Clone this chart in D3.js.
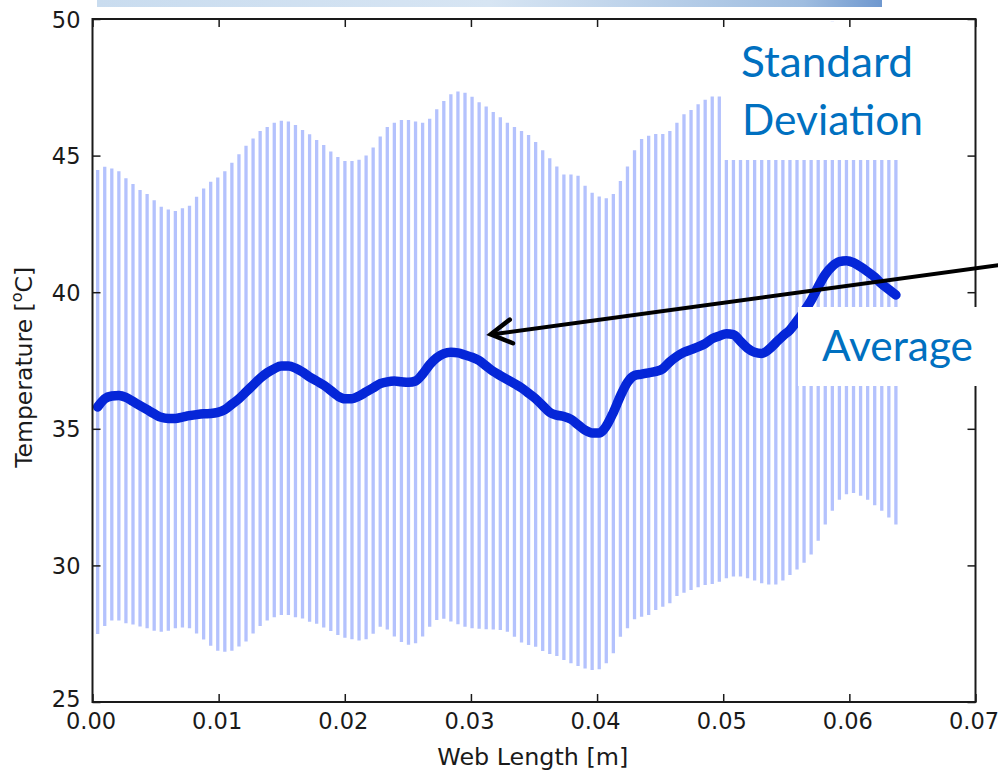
<!DOCTYPE html>
<html>
<head>
<meta charset="utf-8">
<script src="https://cdn.jsdelivr.net/npm/d3@7"></script>
<style>
  html, body { margin: 0; padding: 0; background: #fff; }
  svg { display: block; }
</style>
</head>
<body>
<svg id="chart" width="998" height="772"></svg>
<script>
// ---------------- data ----------------
const xFirst = 0.00041;          // web length of first sample [m]
const xStep = 0.00056;           // spacing between samples [m]

const upperValues = [
  44.47, 44.59, 44.53, 44.43, 44.17, 43.96, 43.74, 43.59, 43.37, 43.13, 43.03, 42.97, 43.07, 43.16, 43.49, 43.80,
  44.04, 44.20, 44.43, 44.74, 45.05, 45.36, 45.63, 45.90, 46.05, 46.20, 46.28, 46.25, 46.12, 45.94, 45.78, 45.57, 45.39,
  45.15, 44.95, 44.80, 44.80, 44.85, 45.00, 45.30, 45.70, 46.05, 46.20, 46.30, 46.30, 46.25, 46.20, 46.35, 46.70,
  47.00, 47.25, 47.35, 47.30, 47.15, 46.95, 46.80, 46.60, 46.40, 46.20, 46.05, 45.90, 45.75, 45.50, 45.20, 44.90, 44.60,
  44.31, 44.31, 44.26, 43.90, 43.64, 43.50, 43.44, 43.59, 44.07, 44.60, 45.20, 45.61, 45.73, 45.79, 45.79, 45.90,
  46.20, 46.51, 46.67, 46.88, 47.04, 47.16, 47.16,
  47.43, 47.31, 46.81, 46.37, 46.15, 46.17, 46.50, 47.00, 47.35, 47.60, 48.05, 48.50, 49.00, 49.50, 49.80, 49.90,
  49.80, 49.70, 49.50, 49.30, 49.10, 48.90, 48.60, 48.45, 48.30
];

const lowerValues = [
  27.49, 27.78, 27.98, 27.98, 27.88, 27.84, 27.76, 27.70, 27.61, 27.57, 27.61, 27.70, 27.73, 27.70, 27.51, 27.29,
  27.06, 26.88, 26.84, 26.88, 27.03, 27.21, 27.51, 27.78, 27.98, 28.10, 28.18, 28.18, 28.10, 28.06, 27.94, 27.86, 27.73,
  27.60, 27.45, 27.35, 27.30, 27.25, 27.30, 27.50, 27.75, 27.65, 27.40, 27.20, 27.10, 27.15, 27.40, 27.75, 28.00,
  28.05, 27.95, 27.85, 27.75, 27.70, 27.68, 27.66, 27.65,
  27.64, 27.57, 27.39, 27.18, 27.09, 27.02, 26.87, 26.76, 26.68, 26.54, 26.42, 26.32, 26.23, 26.17, 26.20, 26.42,
  26.78, 27.39, 27.70, 28.03, 28.12, 28.18, 28.37, 28.49, 28.61, 28.88, 29.00, 29.10, 29.20, 29.28, 29.32, 29.40,
  29.53, 29.59, 29.59, 29.53,
  29.45, 29.35, 29.30, 29.30, 29.45, 29.65, 29.85, 30.10, 30.40, 30.90, 31.50, 32.00, 32.40, 32.60, 32.65, 32.55,
  32.40, 32.20, 32.00, 31.75, 31.50
];

const meanValues = [
  35.80, 36.10, 36.20, 36.22, 36.15, 36.00, 35.85, 35.70, 35.55, 35.42, 35.38, 35.38, 35.43, 35.48, 35.52, 35.55,
  35.56, 35.60, 35.70, 35.90, 36.10, 36.35, 36.60, 36.85, 37.05, 37.20, 37.30, 37.30, 37.22, 37.08, 36.90, 36.75, 36.60,
  36.40, 36.20, 36.10, 36.10, 36.20, 36.35, 36.50, 36.65, 36.72, 36.75, 36.72, 36.70, 36.75, 37.00, 37.35, 37.60,
  37.75, 37.80, 37.78, 37.70, 37.62, 37.50, 37.30, 37.10, 36.95, 36.80, 36.65, 36.50, 36.30, 36.10, 35.85, 35.60, 35.50,
  35.45, 35.35, 35.15, 34.95, 34.85, 34.85, 35.10, 35.60, 36.20, 36.70, 36.95, 37.00, 37.05, 37.10, 37.20, 37.45,
  37.65, 37.80, 37.90, 38.00,
  38.12, 38.30, 38.40, 38.48, 38.45, 38.20, 37.95, 37.80, 37.76, 37.90, 38.15, 38.40, 38.62, 38.95, 39.30, 39.70,
  40.20, 40.65, 40.95, 41.12, 41.15, 41.08, 40.93, 40.75, 40.55, 40.30, 40.10, 39.90
];

const xTicks = [0.00, 0.01, 0.02, 0.03, 0.04, 0.05, 0.06, 0.07];
const yTicks = [25, 30, 35, 40, 45, 50];
const xLabel = "Web Length [m]";
const yLabelMain = "Temperature [";
const yLabelSup = "o";
const yLabelEnd = "C]";
const stdLabel = ["Standard", "Deviation"];
const avgLabel = "Average";
// arrow annotation (data coordinates): tail beyond the right edge, tip inside the plot
const arrowTail = [0.0720, 41.0];
const arrowTip = [0.03157, 38.46];

// ---------------- drawing ----------------
const svg = d3.select("#chart");
const W = 998, H = 772;
const plot = { left: 92.5, right: 975.5, top: 19, bottom: 702 };

const x = d3.scaleLinear().domain([0, 0.07]).range([plot.left, plot.right]);
const y = d3.scaleLinear().domain([25, 50]).range([plot.bottom, plot.top]);

svg.append("rect").attr("width", W).attr("height", H).attr("fill", "#fff");

// slide header strip at top
const defs = svg.append("defs");
const grad = defs.append("linearGradient").attr("id", "hdr").attr("x1", 0).attr("x2", 1).attr("y1", 0).attr("y2", 0);
grad.append("stop").attr("offset", "0").attr("stop-color", "#c9dcef");
grad.append("stop").attr("offset", "0.5").attr("stop-color", "#d7e5f3");
grad.append("stop").attr("offset", "0.9").attr("stop-color", "#9fbde0");
grad.append("stop").attr("offset", "1").attr("stop-color", "#6f98cf");
svg.append("rect").attr("x", 97).attr("y", 0).attr("width", 785).attr("height", 7).attr("fill", "url(#hdr)");

defs.append("clipPath").attr("id", "plotclip").append("rect")
  .attr("x", plot.left).attr("y", plot.top)
  .attr("width", plot.right - plot.left).attr("height", plot.bottom - plot.top);

const data = meanValues.map((m, i) => ({
  x: xFirst + i * xStep, mean: m, lo: lowerValues[i], hi: upperValues[i]
}));

// error bars (standard deviation)
svg.append("g").attr("clip-path", "url(#plotclip)")
  .selectAll("line").data(data).join("line")
  .attr("x1", d => x(d.x)).attr("x2", d => x(d.x))
  .attr("y1", d => y(d.lo)).attr("y2", d => y(d.hi))
  .attr("stroke", "#b4c2fd").attr("stroke-width", 3.3);

// mean line
svg.append("path").datum(data)
  .attr("d", d3.line().x(d => x(d.x)).y(d => y(d.mean)).curve(d3.curveMonotoneX))
  .attr("fill", "none").attr("stroke", "#0526d8").attr("stroke-width", 9.5)
  .attr("stroke-linejoin", "round").attr("stroke-linecap", "round");

// white box behind "Standard Deviation"
svg.append("rect").attr("x", 722).attr("y", 22).attr("width", 243).attr("height", 138).attr("fill", "#fff");

// frame
svg.append("rect")
  .attr("x", plot.left).attr("y", plot.top)
  .attr("width", plot.right - plot.left).attr("height", plot.bottom - plot.top)
  .attr("fill", "none").attr("stroke", "#1a1a1a").attr("stroke-width", 2);

// axes with inward ticks on all four sides
const tickFont = "DejaVu Sans, sans-serif";
const xAxisB = d3.axisBottom(x).tickValues(xTicks).tickFormat(d3.format(".2f")).tickSizeInner(-8).tickSizeOuter(0).tickPadding(10);
const gxb = svg.append("g").attr("transform", `translate(0,${plot.bottom})`).call(xAxisB);
const xAxisT = d3.axisTop(x).tickValues(xTicks).tickFormat("").tickSizeInner(-8).tickSizeOuter(0);
const gxt = svg.append("g").attr("transform", `translate(0,${plot.top})`).call(xAxisT);
const yAxisL = d3.axisLeft(y).tickValues(yTicks).tickFormat(d3.format("d")).tickSizeInner(-8).tickSizeOuter(0).tickPadding(12);
const gyl = svg.append("g").attr("transform", `translate(${plot.left},0)`).call(yAxisL);
const yAxisR = d3.axisRight(y).tickValues(yTicks).tickFormat("").tickSizeInner(-8).tickSizeOuter(0);
const gyr = svg.append("g").attr("transform", `translate(${plot.right},0)`).call(yAxisR);

[gxb, gxt, gyl, gyr].forEach(g => {
  g.select(".domain").remove();
  g.selectAll(".tick line").attr("stroke", "#1a1a1a").attr("stroke-width", 1.5);
  g.selectAll(".tick text").attr("font-family", tickFont).attr("font-size", 22.5).attr("fill", "#1a1a1a");
});
gxb.selectAll(".tick text").attr("dx", -2).attr("dy", "0.74em");
gyl.selectAll(".tick text").attr("dy", "0.36em");
// lowest y label sits slightly higher, as in the picture
gyl.selectAll(".tick text").filter(d => d === 25).attr("dy", "0.2em");

// axis titles
svg.append("text")
  .attr("x", x(0.0349)).attr("y", 765)
  .attr("text-anchor", "middle").attr("font-family", tickFont).attr("font-size", 23.5)
  .attr("textLength", 191).attr("lengthAdjust", "spacingAndGlyphs")
  .attr("fill", "#1a1a1a").text(xLabel);

const yl = svg.append("text")
  .attr("transform", `translate(32,${y(37.25)}) rotate(-90)`)
  .attr("text-anchor", "middle").attr("font-family", tickFont).attr("font-size", 23.5).attr("fill", "#1a1a1a");
yl.append("tspan").text(yLabelMain);
yl.append("tspan").attr("font-size", 16).attr("dy", -10).text(yLabelSup);
yl.append("tspan").attr("dy", 10).text(yLabelEnd);

// annotation text
const annFont = "Lato, 'Open Sans', sans-serif";
svg.append("text").attr("x", 741).attr("y", 77).attr("font-family", annFont).attr("font-size", 43)
  .attr("fill", "#0070c0").attr("textLength", 172).attr("lengthAdjust", "spacingAndGlyphs").text(stdLabel[0]);
svg.append("text").attr("x", 742).attr("y", 135).attr("font-family", annFont).attr("font-size", 43)
  .attr("fill", "#0070c0").attr("textLength", 181).attr("lengthAdjust", "spacingAndGlyphs").text(stdLabel[1]);

// white box behind "Average" (covers the right spine)
svg.append("rect").attr("x", 798).attr("y", 307).attr("width", 200).attr("height", 79).attr("fill", "#fff");
svg.append("text").attr("x", 822).attr("y", 361).attr("font-family", annFont).attr("font-size", 43)
  .attr("fill", "#0070c0").attr("textLength", 151).attr("lengthAdjust", "spacingAndGlyphs").text(avgLabel);

// arrow
const tx = x(arrowTail[0]), ty = y(arrowTail[1]);
const hx = x(arrowTip[0]), hy = y(arrowTip[1]);
svg.append("line").attr("x1", tx).attr("y1", ty).attr("x2", hx + 2).attr("y2", hy)
  .attr("stroke", "#000").attr("stroke-width", 4);
const ang = Math.atan2(ty - hy, tx - hx);
const headLen = 24, spread = 0.52;
const p1 = [hx + headLen * Math.cos(ang - spread), hy + headLen * Math.sin(ang - spread)];
const p2 = [hx + headLen * Math.cos(ang + spread), hy + headLen * Math.sin(ang + spread)];
svg.append("path")
  .attr("d", `M${p1[0]},${p1[1]} L${hx},${hy} L${p2[0]},${p2[1]}`)
  .attr("fill", "none").attr("stroke", "#000").attr("stroke-width", 4.5)
  .attr("stroke-linejoin", "miter").attr("stroke-linecap", "round");
</script>
</body>
</html>
